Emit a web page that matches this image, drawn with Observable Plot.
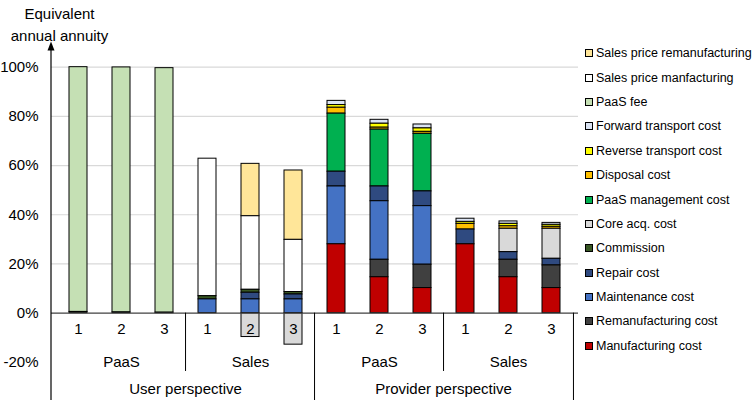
<!DOCTYPE html>
<html><head><meta charset="utf-8">
<script src="https://cdn.jsdelivr.net/npm/d3@7"></script>
<script src="https://cdn.jsdelivr.net/npm/@observablehq/plot@0.6"></script>
<style>
body{margin:0;background:#fff;}
#wrap{position:relative;width:754px;height:400px;font-family:"Liberation Sans",Arial,sans-serif;}
#legend{position:absolute;left:585px;top:41px;}
.item{height:24.4px;display:flex;align-items:center;font-size:12.5px;color:#000;white-space:nowrap;}
.sw{width:6px;height:6px;border:1px solid #000;margin-right:3px;flex:none;}
</style></head><body><div id="wrap"><div id="chart"></div><div id="legend"></div></div>
<script>
// ---- data ----
const perspectives = ["User perspective", "Provider perspective"];
const models = ["PaaS", "Sales"];
const scenarios = ["1", "2", "3"];
const yTicks = [-20, 0, 20, 40, 60, 80, 100];
const gridTicks = [20, 40, 60, 80, 100];

// legend order (top to bottom)
const seriesNames = [
  "Sales price remanufacturing", "Sales price manfacturing", "PaaS fee",
  "Forward transport cost", "Reverse transport cost", "Disposal cost",
  "PaaS management cost", "Core acq. cost", "Commission", "Repair cost",
  "Maintenance cost", "Remanufacturing cost", "Manufacturing cost"
];
const seriesColors = [
  "#FFE699", "#FFFFFF", "#C5E0B4", "#DAE3F3", "#FFFF00", "#FFC000",
  "#00B050", "#D9D9D9", "#375623", "#2F4A80", "#4472C4", "#404040", "#C00000"
];

// values in % per bar: User PaaS 1-3, User Sales 1-3, Provider PaaS 1-3, Provider Sales 1-3
const salesPriceReman   = [0, 0, 0,   0, 21.3, 28.2,   0, 0, 0,   0, 0, 0];
const salesPriceManuf   = [0, 0, 0,   55.9, 29.9, 21.2,   0, 0, 0,   0, 0, 0];
const paasFee           = [99.5, 99.6, 99.4,   0, 0, 0,   0, 0, 0,   0, 0, 0];
const forwardTransport  = [0, 0, 0,   0, 0, 0,   1.7, 1.6, 1.6,   1.3, 1.0, 0.8];
const reverseTransport  = [0, 0, 0,   0, 0, 0,   1.1, 1.6, 1.4,   0.8, 1.0, 0.8];
const disposal          = [0, 0, 0,   0, 0, 0,   2.4, 0.8, 0.8,   2.3, 1.0, 0.8];
const paasManagement    = [0, 0, 0,   0, 0, 0,   23.6, 23.1, 23.4,   0, 0, 0];
const coreAcq           = [0, 0, 0,   0, -9.7, -12.8,   0, 0, 0,   0, 9.5, 12.2];
const commission        = [0.5, 0.3, 0.2,   1.3, 1.2, 1.0,   0, 0, 0,   0, 0, 0];
const repair            = [0, 0, 0,   0, 2.7, 2.0,   6.0, 6.0, 6.0,   6.0, 3.1, 2.7];
const maintenance       = [0, 0, 0,   5.6, 5.6, 5.6,   23.5, 23.8, 23.8,   0, 0, 0];
const remanufacturing   = [0, 0, 0,   0, 0, 0,   0, 7.1, 9.5,   0, 7.1, 9.2];
const manufacturing     = [0, 0, 0,   0, 0, 0,   28.0, 14.6, 10.2,   28.0, 14.6, 10.2];

const seriesValues = [
  salesPriceReman, salesPriceManuf, paasFee, forwardTransport, reverseTransport,
  disposal, paasManagement, coreAcq, commission, repair, maintenance,
  remanufacturing, manufacturing
];

// ---- layout (not data) ----
const W = 754, H = 400, ML = 51, MR = 176;
const yDomain = [-35.5, 127.1];
const labelY = {scenario: -6.4, model: -20, perspective: -30.8, innerSepEnd: -23.7, arrowTip: 110.2};
const font = "'Liberation Sans', Arial, sans-serif";
const fs = 15;

// ---- build tables ----
const bars = [];
for (const p of perspectives) for (const m of models) for (const s of scenarios)
  bars.push({key: `${p}|${m}|${s}`, perspective: p, model: m, scenario: s});
const keys = bars.map(b => b.key);

const data = [];
seriesNames.forEach((name, si) => {
  seriesValues[si].forEach((v, bi) => {
    if (v !== 0) data.push({key: keys[bi], series: name, value: v});
  });
});
const stackOrder = seriesNames.slice().reverse();

const step = (W - ML - MR) / keys.length;
const groupFirst = bars.filter(b => b.scenario === scenarios[0]);
const groupMid = bars.filter(b => b.scenario === scenarios[1]);
const innerSeps = groupFirst.filter(b => b.model === models[1]);
const outerSeps = groupFirst.filter(b => b.perspective === perspectives[1] && b.model === models[0]);
const lastBar = bars.slice(-1);

const yAxisArrow = (index, scales, values, dims) => {
  const g = d3.create("svg:g");
  const x = dims.marginLeft;
  const tip = scales.y(labelY.arrowTip);
  g.append("line").attr("x1", x).attr("x2", x).attr("y1", dims.height).attr("y2", tip + 3)
    .attr("stroke", "#000").attr("stroke-width", 1.2);
  g.append("path").attr("d", `M${x},${tip}L${x - 3.5},${tip + 9}L${x + 3.5},${tip + 9}Z`).attr("fill", "#000");
  return g.node();
};

const chart = Plot.plot({
  width: W, height: H,
  marginLeft: ML, marginRight: MR, marginTop: 0, marginBottom: 0,
  style: {fontFamily: font, fontSize: fs + "px", color: "#000", background: "#fff"},
  x: {domain: keys, paddingInner: 0.59, paddingOuter: 0.295, axis: null},
  y: {domain: yDomain, axis: null},
  color: {domain: seriesNames, range: seriesColors},
  marks: [
    Plot.ruleY(gridTicks, {stroke: "#d9d9d9", strokeWidth: 1.2}),
    Plot.barY(data, {x: "key", y: "value", z: "series", fill: "series", order: stackOrder,
      stroke: "#000", strokeWidth: 1}),
    Plot.ruleY([0], {stroke: "#404040", strokeWidth: 1.2}),
    Plot.axisY({ticks: yTicks, tickFormat: d => d + "%", tickSize: 0, tickPadding: 13,
      fontSize: fs, label: null, fontFamily: font}),
    Plot.ruleX(innerSeps, {x: "key", dx: -step / 2, y1: 0, y2: labelY.innerSepEnd, stroke: "#000", strokeWidth: 1}),
    Plot.ruleX(outerSeps, {x: "key", dx: -step / 2, y1: 0, y2: yDomain[0], stroke: "#000", strokeWidth: 1}),
    Plot.ruleX(lastBar, {x: "key", dx: step / 2, y1: 0, y2: yDomain[0], stroke: "#000", strokeWidth: 1}),
    Plot.text(bars, {x: "key", y: () => labelY.scenario, text: "scenario", fontSize: fs, fontFamily: font}),
    Plot.text(groupMid, {x: "key", y: () => labelY.model, text: "model", fontSize: fs, fontFamily: font}),
    Plot.text(innerSeps, {x: "key", dx: -step / 2, y: () => labelY.perspective, text: "perspective", fontSize: fs, fontFamily: font}),
    Plot.text(["Equivalent\nannual annuity"], {frameAnchor: "top-left", text: d => d, textAnchor: "middle",
      lineAnchor: "top", dx: 8, dy: 3, lineHeight: 1.45, fontSize: fs, fontFamily: font}),
    yAxisArrow
  ]
});
document.getElementById("chart").appendChild(chart);

const legend = document.getElementById("legend");
seriesNames.forEach((name, i) => {
  const row = document.createElement("div");
  row.className = "item";
  const sw = document.createElement("span");
  sw.className = "sw";
  sw.style.background = seriesColors[i];
  row.appendChild(sw);
  row.appendChild(document.createTextNode(name));
  legend.appendChild(row);
});
</script></body></html>
